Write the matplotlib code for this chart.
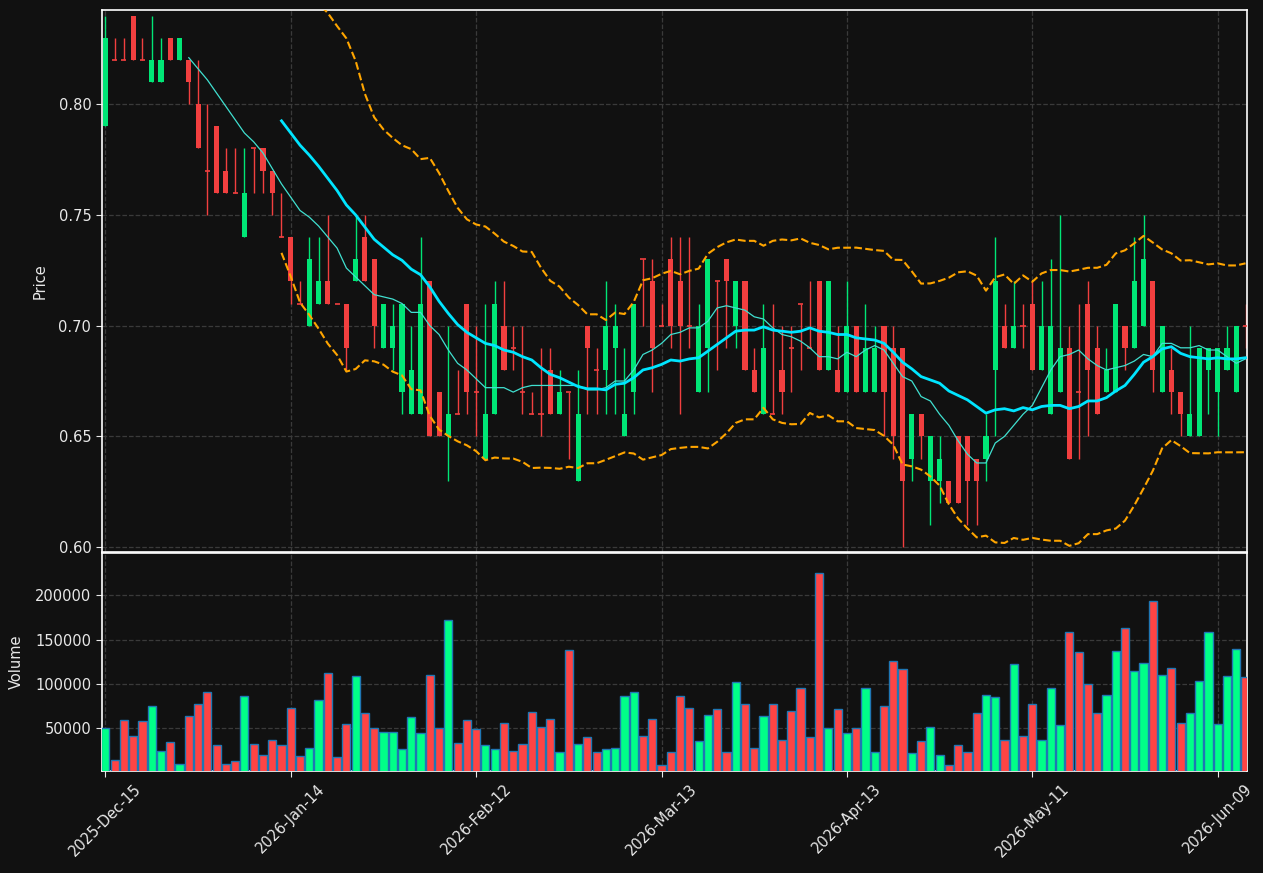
import numpy as np
import pandas as pd
import matplotlib
matplotlib.use("Agg")
import matplotlib.pyplot as plt

opens = [0.79, 0.82, 0.82, 0.84, 0.82, 0.81, 0.81, 0.83, 0.82, 0.82,
         0.80, 0.77, 0.79, 0.77, 0.76, 0.74, 0.78, 0.78, 0.77, 0.74,
         0.74, 0.71, 0.70, 0.71, 0.72, 0.71, 0.71, 0.72, 0.74, 0.73,
         0.69, 0.69, 0.67, 0.66, 0.66, 0.72, 0.67, 0.65, 0.66, 0.71,
         0.67, 0.64, 0.66, 0.70, 0.69, 0.67, 0.66, 0.66, 0.68, 0.66,
         0.67, 0.63, 0.70, 0.68, 0.68, 0.69, 0.65, 0.67, 0.73, 0.72,
         0.70, 0.73, 0.72, 0.70, 0.67, 0.69, 0.72, 0.73, 0.70, 0.72,
         0.68, 0.66, 0.66, 0.68, 0.69, 0.71, 0.69, 0.72, 0.68, 0.68,
         0.67, 0.70, 0.67, 0.67, 0.70, 0.69, 0.69, 0.64, 0.66, 0.63,
         0.63, 0.63, 0.65, 0.65, 0.64, 0.64, 0.68, 0.70, 0.69, 0.70,
         0.71, 0.68, 0.66, 0.67, 0.69, 0.67, 0.71, 0.69, 0.67, 0.67,
         0.70, 0.69, 0.70, 0.72, 0.67, 0.68, 0.67, 0.65, 0.65, 0.68,
         0.67, 0.68, 0.67, 0.70]
highs = [0.84, 0.83, 0.83, 0.84, 0.83, 0.84, 0.83, 0.83, 0.83, 0.82,
         0.82, 0.80, 0.79, 0.78, 0.78, 0.78, 0.78, 0.78, 0.77, 0.76,
         0.74, 0.72, 0.74, 0.74, 0.75, 0.71, 0.71, 0.75, 0.75, 0.73,
         0.71, 0.71, 0.71, 0.70, 0.74, 0.72, 0.67, 0.70, 0.68, 0.71,
         0.70, 0.71, 0.72, 0.72, 0.70, 0.70, 0.67, 0.69, 0.69, 0.68,
         0.67, 0.68, 0.70, 0.69, 0.72, 0.71, 0.69, 0.71, 0.73, 0.73,
         0.71, 0.74, 0.74, 0.74, 0.71, 0.73, 0.72, 0.73, 0.72, 0.72,
         0.69, 0.71, 0.71, 0.70, 0.70, 0.71, 0.72, 0.72, 0.72, 0.70,
         0.72, 0.70, 0.71, 0.70, 0.70, 0.70, 0.69, 0.66, 0.66, 0.65,
         0.65, 0.63, 0.65, 0.65, 0.64, 0.66, 0.74, 0.71, 0.72, 0.71,
         0.72, 0.72, 0.73, 0.75, 0.70, 0.71, 0.72, 0.70, 0.69, 0.71,
         0.70, 0.74, 0.75, 0.72, 0.70, 0.69, 0.67, 0.70, 0.69, 0.69,
         0.69, 0.70, 0.70, 0.71]
lows = [0.79, 0.82, 0.82, 0.82, 0.82, 0.81, 0.81, 0.82, 0.82, 0.80,
        0.78, 0.75, 0.76, 0.76, 0.76, 0.74, 0.76, 0.76, 0.75, 0.74,
        0.71, 0.71, 0.70, 0.71, 0.71, 0.71, 0.68, 0.72, 0.72, 0.69,
        0.69, 0.68, 0.66, 0.66, 0.66, 0.65, 0.65, 0.63, 0.66, 0.66,
        0.65, 0.64, 0.66, 0.68, 0.68, 0.66, 0.66, 0.65, 0.66, 0.66,
        0.64, 0.63, 0.66, 0.66, 0.66, 0.66, 0.65, 0.66, 0.70, 0.67,
        0.70, 0.69, 0.66, 0.69, 0.67, 0.67, 0.68, 0.69, 0.69, 0.68,
        0.67, 0.66, 0.66, 0.66, 0.67, 0.68, 0.69, 0.68, 0.68, 0.67,
        0.67, 0.67, 0.67, 0.67, 0.65, 0.64, 0.60, 0.63, 0.64, 0.61,
        0.62, 0.62, 0.62, 0.61, 0.61, 0.63, 0.65, 0.69, 0.69, 0.69,
        0.68, 0.68, 0.66, 0.67, 0.64, 0.64, 0.65, 0.66, 0.67, 0.67,
        0.68, 0.69, 0.70, 0.67, 0.67, 0.66, 0.65, 0.65, 0.65, 0.66,
        0.65, 0.68, 0.67, 0.69]
closes = [0.83, 0.82, 0.82, 0.82, 0.82, 0.82, 0.82, 0.82, 0.83, 0.81,
          0.78, 0.77, 0.76, 0.76, 0.76, 0.76, 0.78, 0.77, 0.76, 0.74,
          0.72, 0.71, 0.73, 0.72, 0.71, 0.71, 0.69, 0.73, 0.72, 0.70,
          0.71, 0.70, 0.71, 0.68, 0.71, 0.65, 0.65, 0.66, 0.66, 0.67,
          0.67, 0.66, 0.71, 0.68, 0.69, 0.67, 0.66, 0.66, 0.66, 0.67,
          0.67, 0.66, 0.69, 0.68, 0.70, 0.70, 0.66, 0.71, 0.73, 0.69,
          0.70, 0.70, 0.70, 0.70, 0.70, 0.73, 0.72, 0.72, 0.72, 0.68,
          0.67, 0.69, 0.66, 0.67, 0.69, 0.71, 0.69, 0.68, 0.72, 0.67,
          0.70, 0.67, 0.69, 0.69, 0.67, 0.65, 0.63, 0.66, 0.65, 0.65,
          0.64, 0.62, 0.62, 0.63, 0.63, 0.65, 0.72, 0.69, 0.70, 0.70,
          0.68, 0.70, 0.70, 0.69, 0.64, 0.67, 0.68, 0.66, 0.68, 0.71,
          0.69, 0.72, 0.73, 0.68, 0.70, 0.67, 0.66, 0.66, 0.69, 0.69,
          0.69, 0.69, 0.70, 0.70]
volumes = [51000, 15000, 60000, 42000, 58000, 75000, 25000, 35000, 10500, 64500,
           78000, 90500, 31000, 10500, 13000, 86000, 33000, 20500, 37500, 31000,
           72500, 19500, 27500, 82500, 112000, 17500, 55500, 108500, 67000, 51000,
           45500, 45500, 26500, 62500, 44500, 110500, 50000, 171500, 34000, 60000,
           49000, 31000, 26500, 56500, 25000, 32000, 68000, 52000, 61000, 24000,
           138000, 32000, 40000, 24000, 26500, 28500, 87000, 90500, 41000, 61000,
           9500, 24000, 87000, 72500, 35500, 65500, 71500, 24000, 102000, 78000,
           28500, 64500, 77000, 37500, 70000, 96000, 40000, 224500, 51000, 71500,
           44500, 51000, 96000, 23000, 75000, 125500, 116500, 22000, 35500, 52000,
           20500, 8500, 31000, 23000, 67000, 88000, 85000, 36500, 122000, 41000,
           78000, 36500, 96000, 53500, 159000, 135500, 99500, 67000, 88000, 137500,
           162500, 115000, 124000, 193000, 110500, 117500, 56500, 67000, 103000, 158000,
           54500, 109500, 139000, 107500]
tick_labels = ["2025-Dec-15", "2026-Jan-14", "2026-Feb-12", "2026-Mar-13",
               "2026-Apr-13", "2026-May-11", "2026-Jun-09"]

BG = "#111111"
UP_C, DN_C = "#00e676", "#f23f3f"
VUP_C, VDN_C = "#00ff88", "#ff4444"
TXT = "#e8e8e8"

df = pd.DataFrame({"o": opens, "h": highs, "l": lows, "c": closes, "v": volumes})
n = len(df)
x = np.arange(n)
up = (df["c"] > df["o"]).values
ma10 = df["c"].rolling(10).mean()
ma20 = df["c"].rolling(20).mean()
sd20 = df["c"].rolling(20).std(ddof=0)
bb_up = ma20 + 2 * sd20
bb_dn = ma20 - 2 * sd20

fig = plt.figure(figsize=(12.63, 8.73), dpi=100, facecolor=BG)
ax = fig.add_axes([0.0805, 0.3672, 0.9066, 0.6210], facecolor=BG)
axv = fig.add_axes([0.0805, 0.1172, 0.9066, 0.2490], facecolor=BG, sharex=ax)

for a in (ax, axv):
    a.grid(True, color="#3a3a3a", linestyle="--", linewidth=0.9)
    a.set_axisbelow(True)
    for s in a.spines.values():
        s.set_color("white")
        s.set_linewidth(1.2)
    a.tick_params(colors=TXT, labelsize=10.5, length=4)

# candles
ccol = np.where(up, UP_C, DN_C)
ax.vlines(x, df["l"], df["h"], colors=ccol, linewidth=1.0, zorder=2)
body_lo = np.minimum(df["o"], df["c"])
body_h = np.abs(df["c"] - df["o"])
ax.bar(x, body_h, bottom=body_lo, width=0.55, color=ccol, linewidth=0, zorder=3)
doji = body_h.values < 1e-9
ax.hlines(df["c"][doji], x[doji] - 0.275, x[doji] + 0.275, colors=ccol[doji], linewidth=1.2, zorder=3)

ax.plot(x, ma10, color="#40e0d0", linewidth=0.9, zorder=4)
ax.plot(x, ma20, color="#00e5ff", linewidth=2.0, zorder=4)
ax.plot(x, bb_up, color="orange", linestyle="--", linewidth=1.5, zorder=4)
ax.plot(x, bb_dn, color="orange", linestyle="--", linewidth=1.5, zorder=4)

rng = max(highs) - min(lows)
ax.set_ylim(min(lows) - 0.01 * rng, max(highs) + 0.01 * rng)
ax.set_ylabel("Price", color=TXT, fontsize=10.5, labelpad=8)
plt.setp(ax.get_xticklabels(), visible=False)

# volume
vcol = np.where(up, VUP_C, VDN_C)
axv.bar(x, df["v"], width=0.88, color=vcol, edgecolor="#1f77b4", linewidth=1.0, zorder=3)
axv.set_ylim(0.3 * min(volumes), 1.1 * max(volumes))
axv.set_yticks([50000, 100000, 150000, 200000])
axv.ticklabel_format(axis="y", style="plain", useOffset=False)
axv.set_ylabel("Volume", color=TXT, fontsize=10.5, labelpad=8)

ticks = np.arange(0, n, 20)[:len(tick_labels)]
axv.set_xticks(ticks)
axv.set_xticklabels(tick_labels, rotation=45, ha="center")
axv.set_xlim(-0.4, n - 0.87)

fig.savefig("out.png", dpi=100, facecolor=BG)
